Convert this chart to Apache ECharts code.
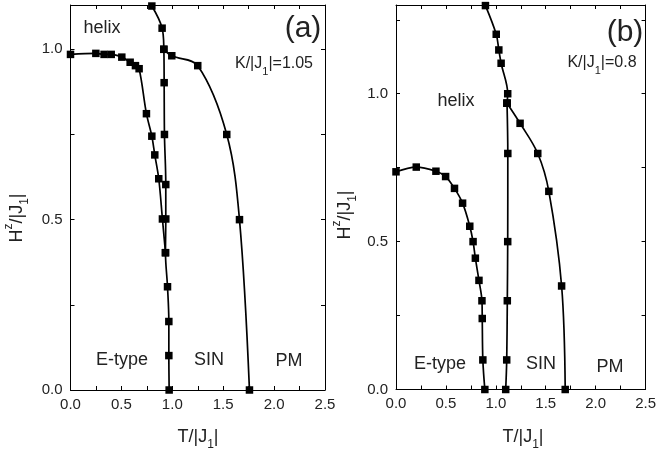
<!DOCTYPE html>
<html>
<head>
<meta charset="utf-8">
<script src="https://cdn.jsdelivr.net/npm/echarts@6/dist/echarts.min.js"></script>
<style>html,body{margin:0;padding:0;background:#fff}#c{width:659px;height:451px}</style>
</head>
<body>
<div id="c"></div>
<script>
// ---- Panel (a): K/|J1| = 1.05 ----
var aEtypeT = [0, 0.249, 0.33, 0.40, 0.504, 0.586, 0.638, 0.674, 0.746, 0.799, 0.828, 0.867, 0.903, 0.933];
var aEtypeH = [0.985, 0.988, 0.985, 0.985, 0.977, 0.962, 0.952, 0.943, 0.811, 0.745, 0.690, 0.620, 0.502, 0.403];
var aSinT = [0.799, 0.90, 0.917, 0.920, 0.923, 0.936, 0.936, 0.933, 0.953, 0.966, 0.966, 0.969];
var aSinH = [1.127, 1.062, 1.0, 0.902, 0.75, 0.603, 0.502, 0.403, 0.303, 0.201, 0.101, 0];
var aPmT = [0.917, 0.995, 1.25, 1.535, 1.66, 1.758];
var aPmH = [1.0, 0.981, 0.952, 0.75, 0.5, 0];

// ---- Panel (b): K/|J1| = 0.8 ----
var bEtypeT = [0, 0.203, 0.40, 0.497, 0.586, 0.667, 0.739, 0.772, 0.795, 0.831, 0.861, 0.864, 0.87, 0.89];
var bEtypeH = [0.736, 0.752, 0.738, 0.720, 0.680, 0.630, 0.552, 0.50, 0.444, 0.369, 0.30, 0.240, 0.10, 0];
var bUpperT = [0.896, 1.004, 1.030, 1.053, 1.119, 1.112];
var bUpperH = [1.298, 1.201, 1.148, 1.103, 1.0, 0.968];
var bVertT = [1.112, 1.12, 1.119, 1.115, 1.109, 1.099];
var bVertH = [0.968, 0.798, 0.50, 0.30, 0.10, 0];
var bPmT = [1.112, 1.243, 1.42, 1.531, 1.659, 1.695];
var bPmH = [0.968, 0.900, 0.798, 0.670, 0.350, 0];

var xMin = 0, xMax = 2.5, tickStep = 0.25, labelStep = 0.5;
var aYMax = 1.13, bYMax = 1.3;

function zip(t, h) { return t.map(function (v, i) { return [v, h[i]]; }); }

var FONT = '"Liberation Sans", Arial, sans-serif';
function fmt(v) {
  var r = v / labelStep;
  return Math.abs(r - Math.round(r)) < 1e-6 ? v.toFixed(1) : '';
}
function xAx(g, pos) {
  return {
    type: 'value', gridIndex: g, position: pos, min: xMin, max: xMax, interval: tickStep,
    axisLine: { show: true, onZero: false, lineStyle: { color: '#000', width: 1 } },
    axisTick: { show: true, inside: true, length: 4, lineStyle: { color: '#000' } },
    axisLabel: { show: pos === 'bottom', formatter: fmt, color: '#222', fontSize: 15, fontFamily: FONT, margin: 7 },
    splitLine: { show: false }
  };
}
function yAx(g, pos, max) {
  return {
    type: 'value', gridIndex: g, position: pos, min: 0, max: max, interval: tickStep,
    axisLine: { show: true, onZero: false, lineStyle: { color: '#000', width: 1 } },
    axisTick: { show: true, inside: true, length: 4, lineStyle: { color: '#000' } },
    axisLabel: { show: pos === 'left', formatter: fmt, color: '#222', fontSize: 15, fontFamily: FONT, margin: 8 },
    splitLine: { show: false }
  };
}
function ser(xi, yi, t, h) {
  return {
    type: 'line', xAxisIndex: xi, yAxisIndex: yi, data: zip(t, h),
    smooth: 0.35, symbol: 'rect', symbolSize: 7.5, showAllSymbol: true,
    lineStyle: { color: '#000', width: 1.7 }, itemStyle: { color: '#000' },
    animation: false, silent: true
  };
}
function txt(x, y, text, size, rich, rot) {
  return {
    type: 'text', x: x, y: y, rotation: rot || 0,
    style: {
      text: text, font: size + 'px ' + FONT, fill: '#222',
      align: 'center', verticalAlign: 'middle', rich: rich || {}
    }
  };
}
var subRich = function (s, ss) {
  return {
    n: { fontSize: s, fontFamily: FONT, fill: '#222', lineHeight: s + 2 },
    s: { fontSize: ss, fontFamily: FONT, fill: '#222', verticalAlign: 'bottom', lineHeight: s + 10 },
    p: { fontSize: ss, fontFamily: FONT, fill: '#222', verticalAlign: 'top', lineHeight: s + 8 }
  };
};

var chart = echarts.init(document.getElementById('c'), null, { renderer: 'canvas' });
chart.setOption({
  backgroundColor: '#fff',
  animation: false,
  grid: [
    { left: 70.5, top: 5, width: 254.5, height: 385 },
    { left: 396, top: 5, width: 254.5, height: 384.5 }
  ],
  xAxis: [xAx(0, 'bottom'), xAx(0, 'top'), xAx(1, 'bottom'), xAx(1, 'top')],
  yAxis: [yAx(0, 'left', aYMax), yAx(0, 'right', aYMax), yAx(1, 'left', bYMax), yAx(1, 'right', bYMax)],
  series: [
    ser(0, 0, aEtypeT, aEtypeH),
    ser(0, 0, aSinT, aSinH),
    ser(0, 0, aPmT, aPmH),
    ser(2, 2, bEtypeT, bEtypeH),
    ser(2, 2, bUpperT, bUpperH),
    ser(2, 2, bVertT, bVertH),
    ser(2, 2, bPmT, bPmH)
  ],
  graphic: [
    txt(102, 28, 'helix', 18),
    txt(303, 29, '(a)', 30),
    txt(274, 64, '{n|K/|J}{s|1}{n||=1.05}', 16, subRich(16, 11)),
    txt(122, 360, 'E-type', 18),
    txt(209, 360, 'SIN', 18),
    txt(289, 361, 'PM', 18),
    txt(198, 437, '{n|T/|J}{s|1}{n||}', 18, subRich(18, 12)),
    txt(17, 218, '{n|H}{p|z}{n|/|J}{s|1}{n||}', 18, subRich(18, 12), Math.PI / 2),

    txt(456, 101, 'helix', 18),
    txt(625, 33, '(b)', 30),
    txt(602, 63, '{n|K/|J}{s|1}{n||=0.8}', 16, subRich(16, 11)),
    txt(440, 364, 'E-type', 18),
    txt(541, 364, 'SIN', 18),
    txt(610, 367, 'PM', 18),
    txt(523, 437, '{n|T/|J}{s|1}{n||}', 18, subRich(18, 12)),
    txt(345, 215, '{n|H}{p|z}{n|/|J}{s|1}{n||}', 18, subRich(18, 12), Math.PI / 2)
  ]
});
</script>
</body>
</html>
